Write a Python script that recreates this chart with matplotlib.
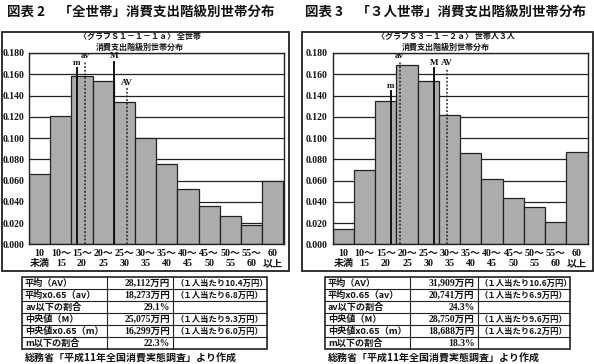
import matplotlib
matplotlib.use("Agg")
import matplotlib.pyplot as plt
from matplotlib.patches import Rectangle
from matplotlib.lines import Line2D

# ---------------- data ----------------
tick_labels = ["10\n未満", "10～\n15", "15～\n20", "20～\n25", "25～\n30", "30～\n35",
               "35～\n40", "40～\n45", "45～\n50", "50～\n55", "55～\n60", "60\n以上"]
yticks = [0.0, 0.02, 0.04, 0.06, 0.08, 0.10, 0.12, 0.14, 0.16, 0.18]

share_all = [0.066, 0.121, 0.158, 0.154, 0.134, 0.100, 0.076, 0.052, 0.036, 0.027, 0.018, 0.060]
share_3p = [0.014, 0.070, 0.135, 0.169, 0.154, 0.122, 0.086, 0.061, 0.044, 0.035, 0.021, 0.087]

# marker lines: label, value (万円), height in chart, dotted?
marker_names = ["m", "av", "M", "AV"]
marker_dotted = [False, True, False, True]
markers_all_val = [16.299, 18.273, 25.075, 28.112]
markers_all_h = [0.166, 0.172, 0.172, 0.147]
markers_3p_val = [18.688, 20.741, 28.750, 31.909]
markers_3p_h = [0.144, 0.172, 0.166, 0.166]

title_all = "図表 2　「全世帯」消費支出階級別世帯分布"
title_3p = "図表 3　「３人世帯」消費支出階級別世帯分布"
sub_all = ["〈グラフＳ１－１－１ａ〉 全世帯", "消費支出階級別世帯分布"]
sub_3p = ["〈グラフＳ３－１－２ａ〉 世帯人３人", "消費支出階級別世帯分布"]

table_col1 = ["平均（AV）", "平均x0.65（av）", "av以下の割合", "中央値（M）", "中央値x0.65（m）", "m以下の割合"]
table_all_col2 = ["28,112万円", "18,273万円", "29.1%", "25,075万円", "16,299万円", "22.3%"]
table_all_col3 = ["（１人当たり10.4万円）", "（１人当たり6.8万円）", "", "（１人当たり9.3万円）", "（１人当たり6.0万円）", ""]
table_3p_col2 = ["31,909万円", "20,741万円", "24.3%", "28,750万円", "18,688万円", "18.3%"]
table_3p_col3 = ["（１人当たり10.6万円）", "（１人当たり6.9万円）", "", "（１人当たり9.6万円）", "（１人当たり6.2万円）", ""]
source = "総務省「平成11年全国消費実態調査」より作成"

# ---------------- figure ----------------
W, H = 594, 364
fig = plt.figure(figsize=(W / 100, H / 100), dpi=100)
fig.patch.set_facecolor("white")

def fx(x):
    return x / W

def fy(y):
    return 1 - y / H

JP = ["Noto Sans CJK JP", "DejaVu Sans"]
SERIF = ["Liberation Serif", "Noto Sans CJK JP"]
BAR = "#acacac"

def panel(x0, x1, data, mvals, mh, title, sub, box, tx, col2, col3, tab):
    # outer box
    fig.add_artist(Rectangle((fx(box[0]), fy(box[3])), fx(box[1]) - fx(box[0]),
                             fy(box[2]) - fy(box[3]), transform=fig.transFigure,
                             fill=False, ec="#222222", lw=1.3))
    fig.text(fx(tx), fy(13), title, fontsize=9.7, fontweight="bold",
             family=JP, va="center", ha="left", color="#111111")
    ax = fig.add_axes([fx(x0), fy(244.3), fx(x1) - fx(x0), fy(53) - fy(244.3)])
    n = len(data)
    xs = [i + 0.5 for i in range(n)]
    for t in yticks[1:]:
        ax.axhline(t, color="#222222", lw=0.9, zorder=1)
    ax.bar(xs, data, width=1.0, color=BAR, edgecolor="#222222", linewidth=0.9, zorder=2)
    for name, v, h, dot in zip(marker_names, mvals, mh, marker_dotted):
        pos = (v - 5) / 5
        if dot:
            ax.plot([pos, pos], [0, h], color="#222222", lw=1.1, ls=(0, (1.2, 1.2)), zorder=3)
        else:
            ax.plot([pos, pos], [0, h], color="#111111", lw=1.4, zorder=3)
        ax.text(pos, h + 0.001, name, ha="center", va="bottom", fontsize=6.5,
                fontweight="bold", family=SERIF, color="#111111", zorder=4)
    ax.set_xlim(0, n)
    ax.set_ylim(0, 0.18)
    ax.set_yticks(yticks)
    ax.set_yticklabels(["%.3f" % t for t in yticks])
    ax.set_xticks(xs)
    ax.set_xticklabels(tick_labels, linespacing=1.15)
    ax.tick_params(length=0, pad=3.5, colors="#111111")
    for lab in ax.get_yticklabels():
        lab.set_family(SERIF); lab.set_fontsize(7); lab.set_fontweight("bold")
    for lab in ax.get_xticklabels():
        lab.set_family(SERIF); lab.set_fontsize(7.2); lab.set_fontweight("bold")
    for s in ax.spines.values():
        s.set_color("#222222"); s.set_linewidth(1.0)
    cx = sub[2] if len(sub) > 2 else (x0 + x1) / 2
    fig.text(fx(cx), fy(37), sub[0], fontsize=5.8, fontweight="bold", family=JP,
             ha="center", va="center", color="#111111")
    fig.text(fx(cx), fy(47), sub[1], fontsize=5.8, fontweight="bold", family=JP,
             ha="center", va="center", color="#111111")
    # table
    tl, d1, d2, tr = tab
    top, rh = 277, 12
    rows = len(table_col1)
    bottom = top + rh * rows
    fig.add_artist(Rectangle((fx(tl), fy(bottom)), fx(tr) - fx(tl), fy(top) - fy(bottom),
                             transform=fig.transFigure, fill=False, ec="#222222", lw=1.2))
    for r in range(1, rows):
        y = top + rh * r
        fig.add_artist(Line2D([fx(tl), fx(tr)], [fy(y), fy(y)], transform=fig.transFigure,
                              color="#222222", lw=0.8))
    for d in (d1, d2):
        fig.add_artist(Line2D([fx(d), fx(d)], [fy(top), fy(bottom)], transform=fig.transFigure,
                              color="#222222", lw=0.8))
    for r in range(rows):
        yc = top + rh * r + rh / 2
        fig.text(fx(tl + 3), fy(yc), table_col1[r], fontsize=6.6, fontweight="bold",
                 family=JP, ha="left", va="center", color="#111111")
        fig.text(fx(d2 - 3), fy(yc), col2[r], fontsize=6.9, fontweight="bold",
                 family=SERIF, ha="right", va="center", color="#111111")
        if col3[r]:
            fig.text(fx(d2 + 2), fy(yc), col3[r], fontsize=6.0, fontweight="bold",
                     family=JP, ha="left", va="center", color="#111111")
    fig.text(fx(tl + 3), fy(363.5), source, fontsize=7.2, fontweight="bold", family=JP,
             ha="left", va="bottom", color="#111111")
    return ax

panel(29, 283.5, share_all, markers_all_val, markers_all_h, title_all,
      sub_all + [140], (1.5, 289, 31.7, 271), 7, table_all_col2, table_all_col3,
      (22, 106.7, 173.3, 266.7))
panel(332.7, 587.7, share_3p, markers_3p_val, markers_3p_h, title_3p,
      sub_3p + [446], (301.7, 592.5, 31.7, 271), 305, table_3p_col2, table_3p_col3,
      (325, 410, 477.7, 570))

fig.savefig("out.png", dpi=100, facecolor="white")
